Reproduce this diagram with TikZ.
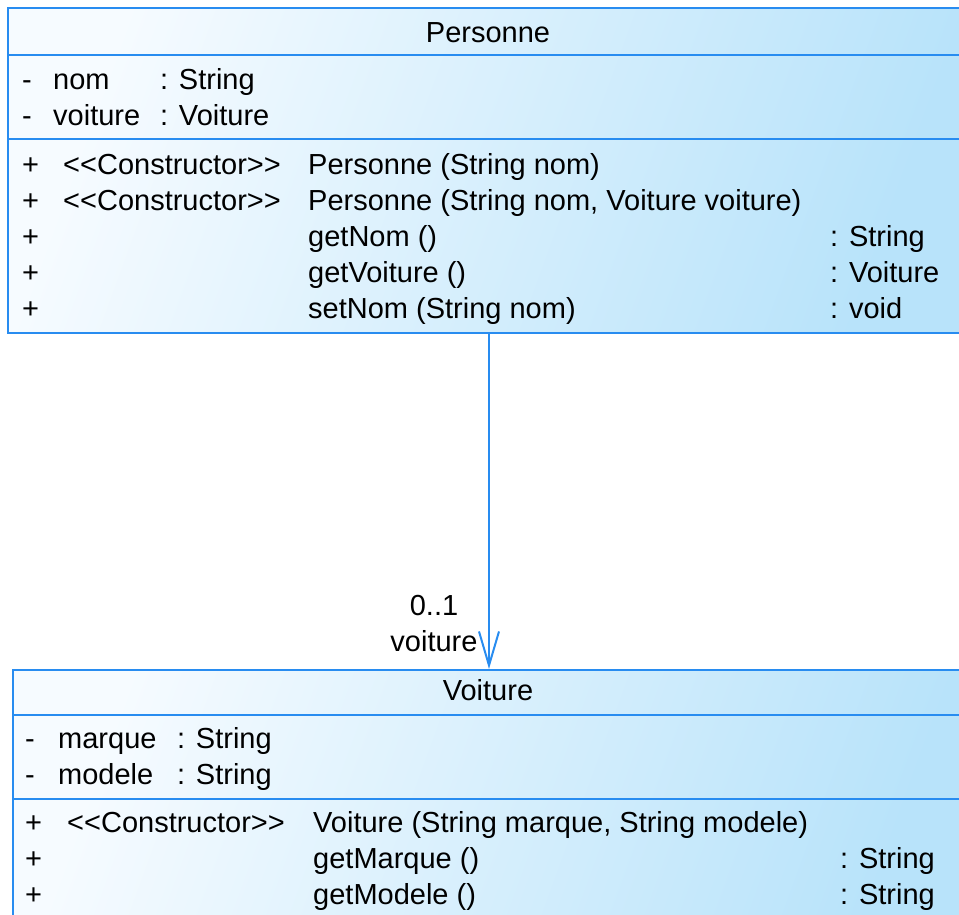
\documentclass[tikz,border=0pt]{standalone}
\usepackage{fontspec}
\setmainfont{Liberation Sans}
\usepackage{tikz}
\usetikzlibrary{positioning, calc, arrows.meta}

\definecolor{umlborder}{RGB}{40,140,240}
\definecolor{umllight}{RGB}{246,251,255}
\definecolor{umlblue}{RGB}{184,227,250}

\tikzset{
    classbox/.style={rectangle, draw=umlborder, line width=2pt, inner sep=0pt,
        anchor=north west, left color=umllight, right color=umlblue, shading angle=70},
    sepline/.style={draw=umlborder, line width=2pt},
    member/.style={anchor=base west, inner sep=0pt},
    classname/.style={anchor=base, inner sep=0pt},
    assoc/.style={draw=umlborder, line width=2pt, -{Straight Barb[length=34pt,width=20pt,line width=2pt]}}
}

\begin{document}
\begin{tikzpicture}[x=1pt, y=-1pt, font=\fontsize{29}{36}\selectfont]
    \clip (0,0) rectangle (959,915);

    % Define nodes
    \node[classbox, minimum width=962pt, minimum height=325pt] (personne) at (7,7) {};
    \node[classbox, minimum width=952pt, minimum height=300pt] (voiture) at (12,669) {};

    % compartments
    \draw[sepline] (7,55) -- (969,55);
    \draw[sepline] (7,139) -- (969,139);
    \draw[sepline] (12,715) -- (964,715);
    \draw[sepline] (12,799) -- (964,799);

    % Personne
    \node[classname] (personneName) at (488,43) {Personne};
    \node[member] (pVisNom) at (22,90) {-};
    \node[member] (pNom) at (53,90) {nom};
    \node[member] (pNomType) at (160,90) {: String};
    \node[member] (pVisVoiture) at (22,126) {-};
    \node[member] (pVoiture) at (53,126) {voiture};
    \node[member] (pVoitureType) at (160,126) {: Voiture};

    \node[member] (pVisCtorA) at (22,175) {+};
    \node[member] (pStereoA) at (63,175) {<{}<Constructor>{}>};
    \node[member] (pCtorA) at (308,175) {Personne (String nom)};
    \node[member] (pVisCtorB) at (22,211) {+};
    \node[member] (pStereoB) at (63,211) {<{}<Constructor>{}>};
    \node[member] (pCtorB) at (308,211) {Personne (String nom, Voiture voiture)};
    \node[member] (pVisGetNom) at (22,246) {+};
    \node[member] (pGetNom) at (308,246) {getNom ()};
    \node[member] (pGetNomType) at (830,246) {: String};
    \node[member] (pVisGetVoiture) at (22,282) {+};
    \node[member] (pGetVoiture) at (308,282) {getVoiture ()};
    \node[member] (pGetVoitureType) at (830,282) {: Voiture};
    \node[member] (pVisSetNom) at (22,318) {+};
    \node[member] (pSetNom) at (308,318) {setNom (String nom)};
    \node[member] (pSetNomType) at (830,318) {: void};

    % Voiture
    \node[classname] (voitureName) at (488,700) {Voiture};
    \node[member] (vVisMarque) at (25,748) {-};
    \node[member] (vMarque) at (58,748) {marque};
    \node[member] (vMarqueType) at (177,748) {: String};
    \node[member] (vVisModele) at (25,784) {-};
    \node[member] (vModele) at (58,784) {modele};
    \node[member] (vModeleType) at (177,784) {: String};

    \node[member] (vVisCtor) at (25,832) {+};
    \node[member] (vStereo) at (67,832) {<{}<Constructor>{}>};
    \node[member] (vCtor) at (313,832) {Voiture (String marque, String modele)};
    \node[member] (vVisGetMarque) at (25,868) {+};
    \node[member] (vGetMarque) at (313,868) {getMarque ()};
    \node[member] (vGetMarqueType) at (840,868) {: String};
    \node[member] (vVisGetModele) at (25,904) {+};
    \node[member] (vGetModele) at (313,904) {getModele ()};
    \node[member] (vGetModeleType) at (840,904) {: String};

    % Connect nodes
    \draw[assoc] (personne.south) -- (voiture.north);
    \node[classname] (multVoiture) at (434,615) {0..1};
    \node[classname] (roleVoiture) at (434,651) {voiture};
\end{tikzpicture}
\end{document}
